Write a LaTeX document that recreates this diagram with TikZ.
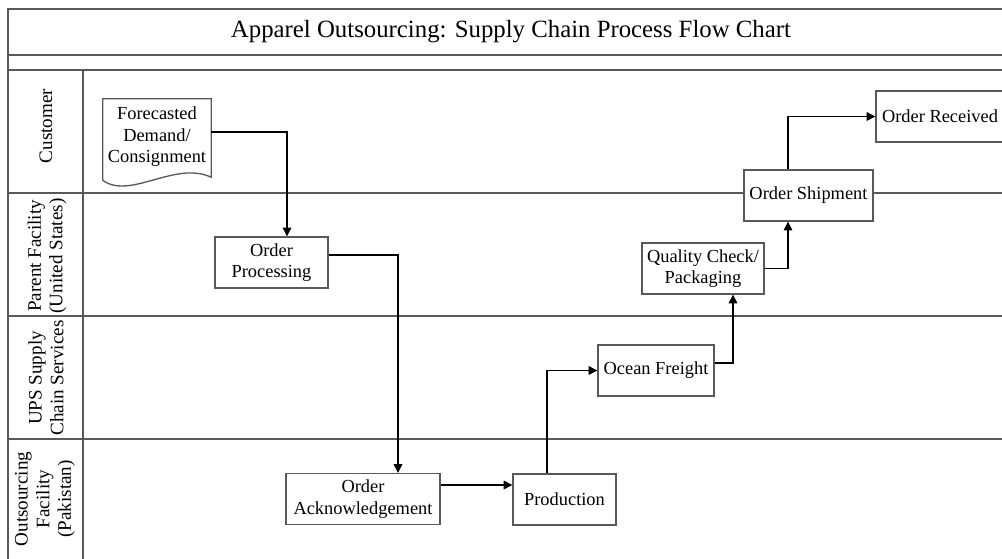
\documentclass[tikz,border=0pt]{standalone}
\usepackage{fontspec}
\setmainfont{Liberation Serif}
\usetikzlibrary{arrows.meta, calc}

\begin{document}
\begin{tikzpicture}[x=0.75pt, y=-0.75pt,
    frame/.style={draw=black!65, line width=1pt},
    box/.style={draw=black!65, line width=1pt, fill=white, align=center,
        minimum height=38.25pt, inner sep=2pt, font=\fontsize{13.8}{16.1}\selectfont},
    lane/.style={rotate=90, align=center, font=\fontsize{14.3}{16.2}\selectfont},
    flow/.style={-{Triangle[length=6.5pt, width=6.5pt]}, line width=0.8pt}]
    \useasboundingbox (0,0) rectangle (1002,559);

    % Frame, title band and swimlanes
    \draw[frame] (1010,9) -- (8,9) -- (8,570);
    \draw[frame] (8,55) -- (1010,55);
    \draw[frame] (8,70) -- (1010,70);
    \draw[frame] (83,70) -- (83,570);
    \foreach \y in {193,316,439}
        \draw[frame] (8,\y) -- (1010,\y);

    % Title
    \node[font=\fontsize{18.6}{22}\selectfont] (title) at (511,32)
        {Apparel Outsourcing: Supply Chain Process Flow Chart};

    % Lane labels
    \node[lane] (customer) at (46,126) {Customer};
    \node[lane] (parent) at (47,256) {Parent Facility\\(United States)};
    \node[lane] (ups) at (46,378) {UPS Supply\\Chain Services};
    \node[lane] (outsrc) at (45,499) {Outsourcing\\Facility\\(Pakistan)};

    % Document shape (forecast)
    \node[align=center, minimum width=81pt, minimum height=57pt, inner sep=0pt,
        font=\fontsize{13.8}{16.1}\selectfont] (demand) at (157,137)
        {Forecasted\\Demand/\\Consignment};
    \draw[frame] (demand.north west) -- ($(demand.south west)+(0,5)$)
        .. controls +(27,20) and +(-36,-17) .. ($(demand.south east)+(0,2)$)
        -- (demand.north east) -- cycle;

    % Process boxes
    \node[box, minimum width=84.75pt] (proc) at (271.5,262.5) {Order\\Processing};
    \node[box, minimum width=115.5pt] (ack) at (363,499) {Order\\Acknowledgement};
    \node[box, minimum width=77.25pt] (prod) at (564.5,499.5) {Production};
    \node[box, minimum width=87pt] (freight) at (656,370.5) {Ocean Freight};
    \node[box, minimum width=91.5pt] (qc) at (703,268.5) {Quality Check/\\Packaging};
    \node[box, minimum width=96.75pt] (ship) at (808.5,195.5) {Order Shipment};
    \node[box, minimum width=96pt] (received) at (940,116.5) {Order Received};

    % Flow
    \draw[flow] ($(demand.east)+(0,-5)$) -| ($(proc.north)+(15.5,0)$);
    \draw[flow] ($(proc.east)+(0,-7.5)$) -| ($(ack.north)+(35,0)$);
    \draw[flow] ($(ack.east)+(0,-14)$) -- ($(prod.west)+(0,-14.5)$);
    \draw[flow] ($(prod.north)+(-17.5,0)$) |- (freight.west);
    \draw[flow] ($(freight.east)+(0,-7.5)$) -| ($(qc.south)+(30,0)$);
    \draw[flow] (qc.east) -| ($(ship.south)+(-20.5,0)$);
    \draw[flow] ($(ship.north)+(-20.5,0)$) |- (received.west);
\end{tikzpicture}
\end{document}
